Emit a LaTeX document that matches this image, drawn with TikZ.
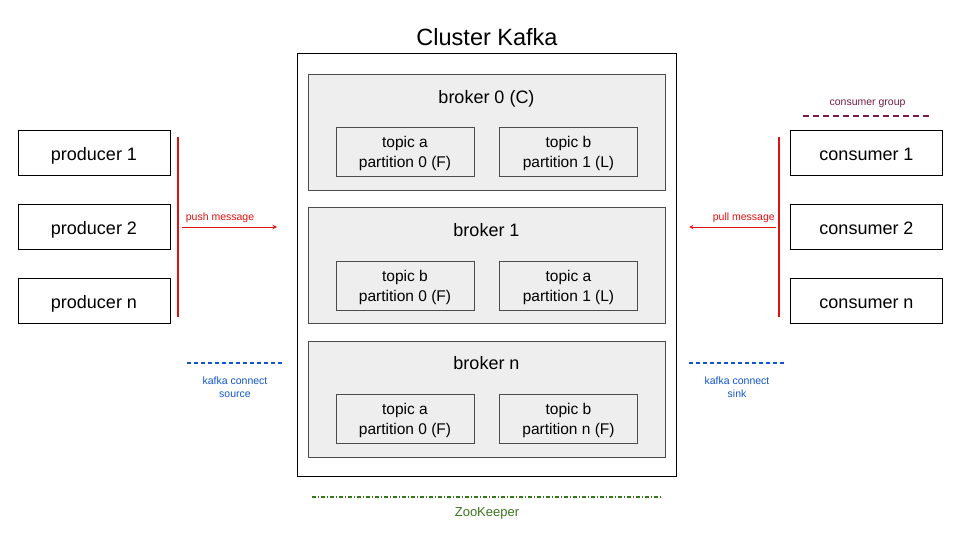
\documentclass[tikz,border=0pt]{standalone}
\usepackage{fontspec}
\setmainfont{Liberation Sans}
\usepackage{xcolor}
\usepackage{tikz}
\usetikzlibrary{shapes,arrows,positioning,fit}

\definecolor{msgred}{HTML}{E01010}
\definecolor{grpviolet}{HTML}{741B47}
\definecolor{connblue}{HTML}{1155CC}
\definecolor{zkgreen}{HTML}{38761D}
\definecolor{brokergray}{HTML}{EEEEEE}

\begin{document}
\begin{tikzpicture}[
    x=1pt, y=-1pt,
    client/.style={rectangle, draw, line width=0.9pt, minimum width=152pt, minimum height=45pt, inner sep=0pt, text height=20pt, text depth=4pt, font=\fontsize{18}{21}\selectfont},
    broker/.style={rectangle, draw=black!70, fill=brokergray, line width=0.8pt, minimum width=357pt, minimum height=116pt, inner sep=0pt},
    topic/.style={rectangle, draw=black!70, fill=brokergray, line width=0.8pt, minimum width=138pt, minimum height=49pt, inner sep=0pt},
    toptext/.style={align=center, font=\fontsize{15.5}{20}\selectfont},
    blabel/.style={font=\fontsize{18}{21}\selectfont},
    small/.style={font=\fontsize{10.5}{12.5}\selectfont, align=center},
    msg/.style={draw=msgred, line width=1.4pt},
    arrow/.style={msg, line width=1pt, ->, >=stealth},
    sep/.style={line width=1.2pt}
]
    \useasboundingbox (0,0) rectangle (960,540);

    % cluster
    \node[font=\fontsize{23.5}{27}\selectfont] (title) at (487,37) {Cluster Kafka};
    \node[rectangle, draw, line width=0.9pt, minimum width=379pt, minimum height=423pt, inner sep=0pt] (cluster) at (486.5,264.5) {};

    % brokers
    \node[broker] (b0) at (486.5,132) {};
    \node[blabel] at (486.5,98.5) {broker 0 (C)};
    \node[topic] (b0a) at (405,151.5) {};
    \node[topic] (b0b) at (568.5,151.5) {};
    \node[toptext] at (405,153) {topic a\\partition 0 (F)};
    \node[toptext] at (568.5,153) {topic b\\partition 1 (L)};

    \node[broker] (b1) at (486.5,265.5) {};
    \node[blabel] at (486.5,230.5) {broker 1};
    \node[topic] (b1b) at (405,285.5) {};
    \node[topic] (b1a) at (568.5,285.5) {};
    \node[toptext] at (405,287) {topic b\\partition 0 (F)};
    \node[toptext] at (568.5,287) {topic a\\partition 1 (L)};

    \node[broker] (bn) at (486.5,399.5) {};
    \node[blabel] at (486.5,363.5) {broker n};
    \node[topic] (bna) at (405,418.5) {};
    \node[topic] (bnb) at (568.5,418.5) {};
    \node[toptext] at (405,420) {topic a\\partition 0 (F)};
    \node[toptext] at (568.5,420) {topic b\\partition n (F)};

    % producers
    \node[client] (p1) at (94,152.5) {producer 1};
    \node[client] (p2) at (94,226.5) {producer 2};
    \node[client] (pn) at (94,300.5) {producer n};

    % consumers
    \node[client] (c1) at (866.5,152.5) {consumer 1};
    \node[client] (c2) at (866.5,226.5) {consumer 2};
    \node[client] (cn) at (866.5,300.5) {consumer n};

    % push / pull
    \coordinate (pushtop) at (178,137);
    \coordinate (pushbot) at (178,317);
    \coordinate (pushstart) at (182,227);
    \coordinate (pushend) at (277,227);
    \draw[msg] (pushtop) -- (pushbot);
    \draw[arrow] (pushstart) -- node[above, small, text=msgred, pos=0.4] {push message} (pushend);

    \coordinate (pulltop) at (779,137);
    \coordinate (pullbot) at (779,317);
    \coordinate (pullstart) at (776,227);
    \coordinate (pullend) at (689,227);
    \draw[msg] (pulltop) -- (pullbot);
    \draw[arrow] (pullstart) -- node[above, small, text=msgred, pos=0.37] {pull message} (pullend);

    % consumer group
    \node[small, text=grpviolet] (group) at (867.5,103.5) {consumer group};
    \draw[sep, grpviolet, dash pattern=on 6pt off 4pt] (803,116) -- (932,116);

    % kafka connect
    \draw[sep, connblue, dash pattern=on 4pt off 3pt] (187,363) -- (284,363);
    \node[small, text=connblue] (source) at (235,387) {kafka connect\\source};
    \draw[sep, connblue, dash pattern=on 4pt off 3pt] (689,363) -- (785,363);
    \node[small, text=connblue] (sink) at (737,387) {kafka connect\\sink};

    % zookeeper
    \draw[sep, zkgreen, dash pattern=on 4pt off 2pt on 1pt off 2pt] (312,497) -- (662,497);
    \node[text=zkgreen, font=\fontsize{13}{15}\selectfont] (zk) at (487,513.5) {ZooKeeper};
\end{tikzpicture}
\end{document}
